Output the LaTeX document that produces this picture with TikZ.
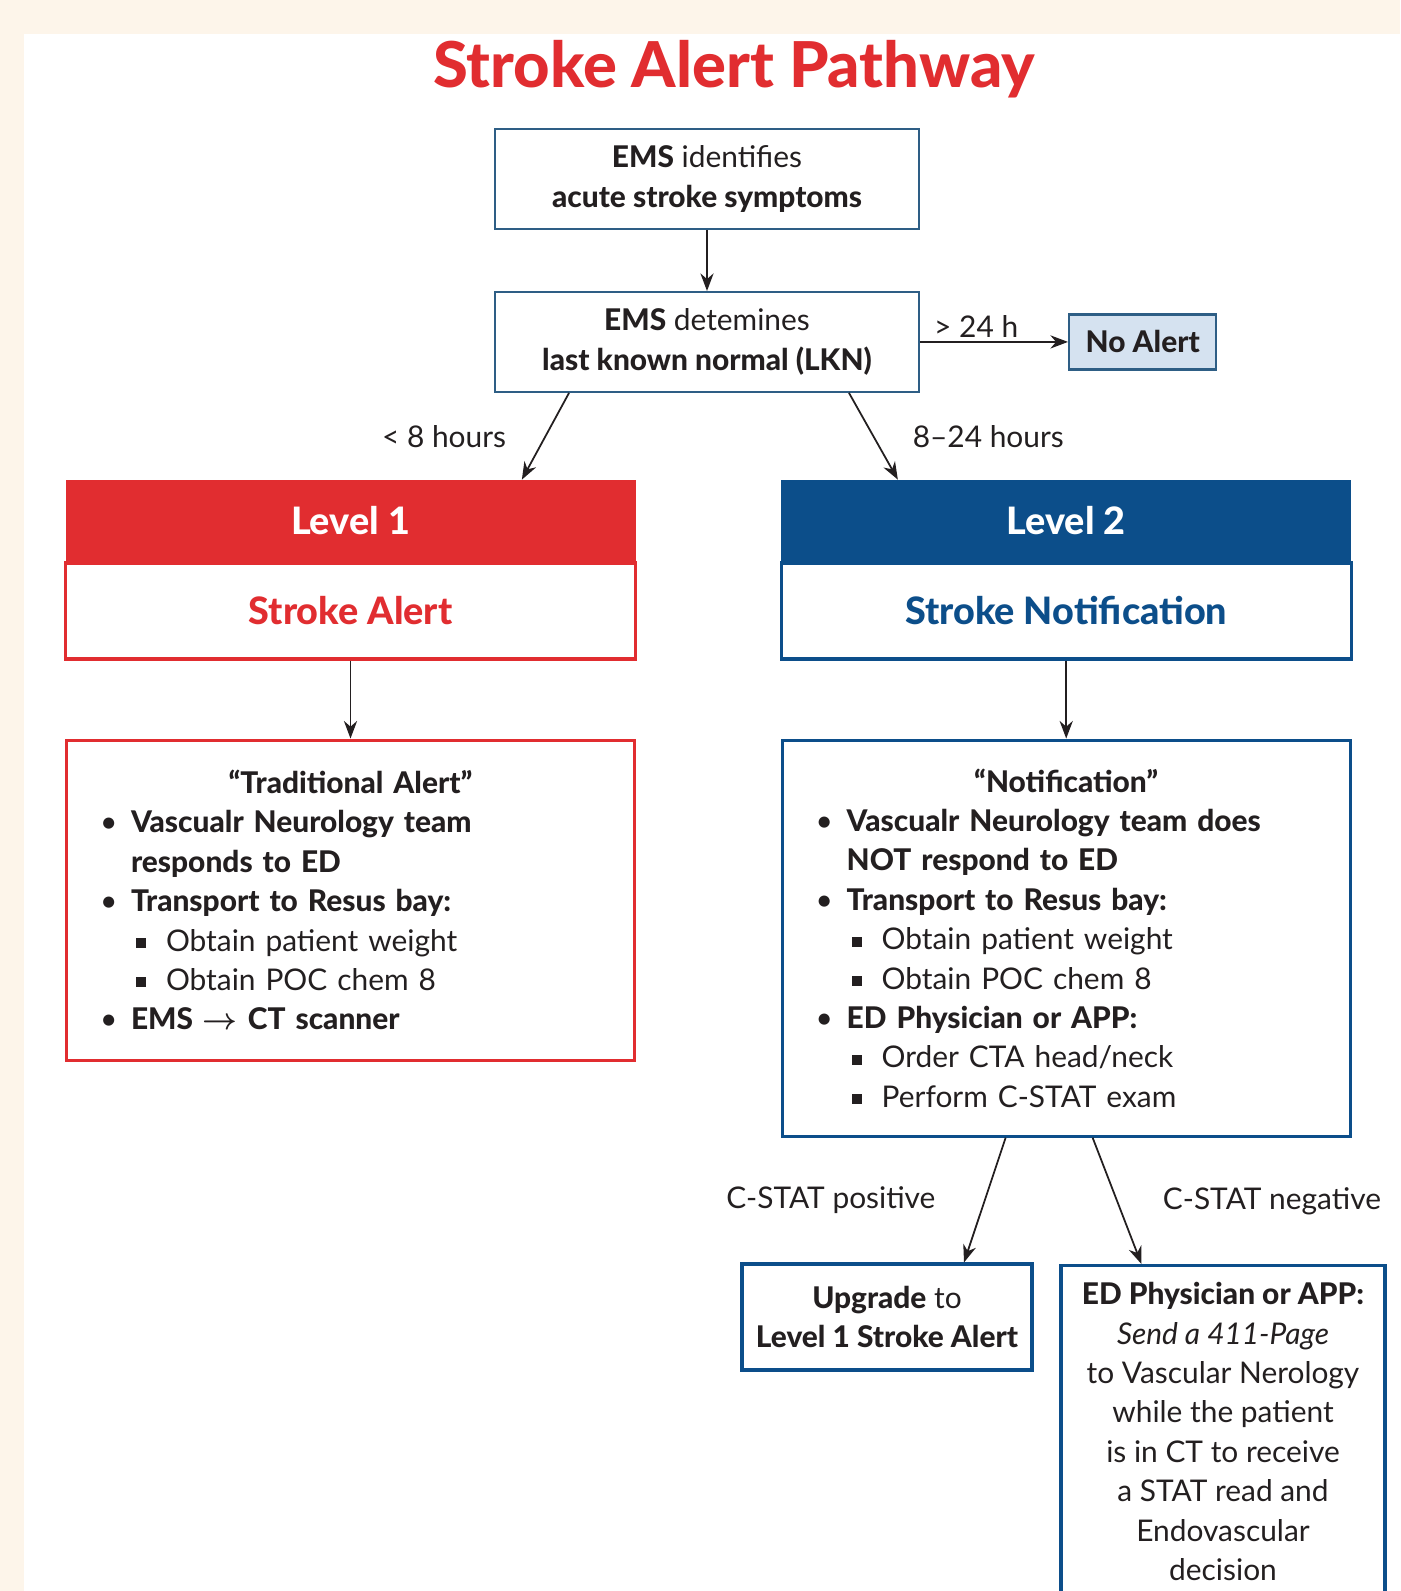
\documentclass[tikz,border=0pt]{standalone}
\usepackage{fontspec}
\setmainfont{Lato}[BoldFont={Lato Heavy}, BoldItalicFont={Lato Heavy Italic}]
\usetikzlibrary{arrows.meta,positioning}
\definecolor{alertred}{HTML}{E12D30}
\definecolor{noteblue}{HTML}{0C4E8A}
\definecolor{emsblue}{HTML}{2E5E85}
\definecolor{noalertfill}{HTML}{D5E2F0}
\definecolor{pagecream}{HTML}{FDF5EA}
\definecolor{inkgray}{HTML}{231F20}
\newcommand{\bul}{\hspace*{0.27cm}\makebox[0.62cm][l]{\textbullet}}
\newcommand{\cont}{\hspace*{0.89cm}}
\newcommand{\sqb}{\hspace*{0.99cm}\makebox[0.6cm][l]{\rule[0.1em]{0.34em}{0.34em}}}
\newcommand{\lhead}[1]{\makebox[10.56cm]{\textbf{#1}}}

\begin{document}
\begin{tikzpicture}[
  font=\fontsize{17}{22.4}\selectfont,
  text=inkgray,
  box/.style={draw=emsblue, line width=1.1pt, fill=white, align=center,
              minimum width=8.48cm, minimum height=2cm},
  lvl/.style={minimum width=11.4cm, minimum height=1.62cm, text=white,
              font=\fontsize{21.5}{24}\selectfont\bfseries},
  lvlbody/.style={draw, line width=1.8pt, fill=white, minimum width=11.4cm,
              minimum height=1.92cm, font=\fontsize{21.5}{24}\selectfont\bfseries},
  listbox/.style={draw, line width=1.8pt, fill=white, align=left, inner xsep=0.4cm,
              text width=10.56cm, minimum width=11.36cm},
  outbox/.style={draw=noteblue, line width=1.8pt, fill=white, align=center},
  arr/.style={-{Stealth[length=10pt,width=7.5pt]}, line width=1pt, draw=inkgray},
  lbl/.style={text=inkgray, inner sep=2pt}
]
% page
\useasboundingbox (0,0) rectangle (28,-31.82);
\clip (0,0) rectangle (28,-31.82);
\fill[pagecream] (0,0) rectangle (28,-31.82);
\fill[white] (0.48,-0.68) rectangle (28,-31.82);

\node[text=alertred, font=\fontsize{36}{40}\selectfont\bfseries] (title) at (14.68,-1.38) {Stroke Alert Pathway};

% EMS steps
\node[box] (ident) at (14.14,-3.58) {\textbf{EMS} identifies\\\textbf{acute stroke symptoms}};
\node[box, below=1.22cm of ident] (lkn) {\textbf{EMS} detemines\\\textbf{last known normal (LKN)}};
\node[draw=emsblue, line width=1.4pt, fill=noalertfill, minimum width=2.94cm, minimum height=1.1cm,
      font=\fontsize{17}{20}\selectfont\bfseries, right=2.96cm of lkn] (noalert) {No Alert};

% levels
\node[lvl, fill=alertred] (lvlone) at (7.01,-10.41) {Level 1};
\node[lvlbody, draw=alertred, text=alertred, below=0pt of lvlone] (alertbody) {Stroke Alert};
\node[lvl, fill=noteblue, right=2.9cm of lvlone] (lvltwo) {Level 2};
\node[lvlbody, draw=noteblue, text=noteblue, below=0pt of lvltwo] (notebody) {Stroke Notification};

\node[listbox, draw=alertred, minimum height=6.4cm, below=1.56cm of alertbody] (trad) {%
\lhead{“Traditional Alert”}\\
\bul\textbf{Vascualr Neurology team}\\
\cont\textbf{responds to ED}\\
\bul\textbf{Transport to Resus bay:}\\
\sqb Obtain patient weight\\
\sqb Obtain POC chem 8\\
\bul\textbf{EMS {\boldmath$\rightarrow$} CT scanner}};
\node[listbox, draw=noteblue, minimum height=7.92cm, below=1.56cm of notebody] (notif) {%
\lhead{“Notification”}\\
\bul\textbf{Vascualr Neurology team does}\\
\cont\textbf{NOT respond to ED}\\
\bul\textbf{Transport to Resus bay:}\\
\sqb Obtain patient weight\\
\sqb Obtain POC chem 8\\
\bul\textbf{ED Physician or APP:}\\
\sqb Order CTA head/neck\\
\sqb Perform C-STAT exam};

% C-STAT outcomes
\node[outbox, minimum width=5.8cm, minimum height=2.12cm] (upgrade) at (17.74,-26.34) {\textbf{Upgrade} to\\\textbf{Level 1 Stroke Alert}};
\node[outbox, anchor=north, minimum width=6.48cm, inner ysep=0.34cm] (edpage) at (24.46,-25.28)
  {\textbf{ED Physician or APP:}\\\textit{Send a 411-Page}\\to Vascular Nerology\\while the patient\\is in CT to receive\\a STAT read and\\Endovascular\\decision};

\draw[arr] (ident) -- (lkn);
\draw[arr] (lkn.east) -- node[lbl, above, pos=0.38] {> 24 h} (noalert.west);
\draw[arr] ([xshift=1.5cm]lkn.south west) -- node[lbl, left=0.7cm] {< 8 hours} ([xshift=-2.28cm]lvlone.north east);
\draw[arr] ([xshift=-1.42cm]lkn.south east) -- node[lbl, right=0.7cm] {8--24 hours} ([xshift=2.34cm]lvltwo.north west);
\draw[arr] (alertbody) -- (trad);
\draw[arr] (notebody) -- (notif);
\draw[arr] ([xshift=4.5cm]notif.south west) -- node[lbl, left=0.9cm] {C-STAT positive} ([xshift=1.54cm]upgrade.north);
\draw[arr] ([xshift=6.24cm]notif.south west) -- node[lbl, right=0.83cm] {C-STAT negative} ([xshift=1.64cm]edpage.north west);
\end{tikzpicture}
\end{document}
